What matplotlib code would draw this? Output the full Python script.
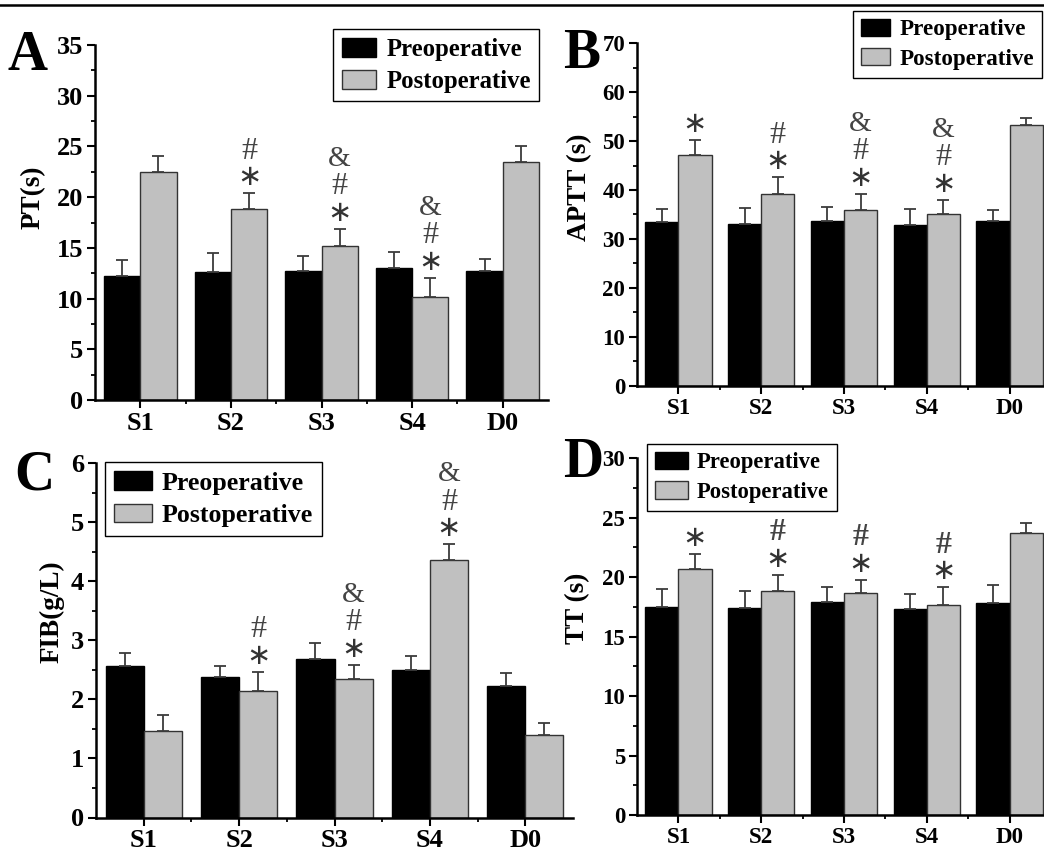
import numpy as np
import matplotlib
matplotlib.use('Agg')
import matplotlib.pyplot as plt
from matplotlib.lines import Line2D
from matplotlib.ticker import MultipleLocator, FixedLocator

plt.rcParams['font.family'] = ['Liberation Serif', 'DejaVu Serif']
plt.rcParams['font.weight'] = 'bold'

groups = ['S1', 'S2', 'S3', 'S4', 'D0']
series_names = ['Preoperative', 'Postoperative']

# PT (s)
pt_pre = [12.2, 12.65, 12.75, 13.0, 12.75]
pt_pre_sd = [1.6, 1.8, 1.45, 1.55, 1.2]
pt_post = [22.5, 18.8, 15.2, 10.2, 23.5]
pt_post_sd = [1.55, 1.6, 1.7, 1.85, 1.5]
pt_marks = ['', '*#', '*#&', '*#&', '']

# APTT (s)
aptt_pre = [33.4, 33.1, 33.6, 32.9, 33.6]
aptt_pre_sd = [2.8, 3.3, 2.95, 3.3, 2.4]
aptt_post = [47.1, 39.2, 35.9, 35.1, 53.3]
aptt_post_sd = [3.2, 3.4, 3.3, 2.9, 1.5]
aptt_marks = ['*', '*#', '*#&', '*#&', '']

# FIB (g/L)
fib_pre = [2.57, 2.38, 2.69, 2.50, 2.22]
fib_pre_sd = [0.22, 0.19, 0.26, 0.24, 0.22]
fib_post = [1.46, 2.14, 2.34, 4.36, 1.39]
fib_post_sd = [0.27, 0.33, 0.25, 0.27, 0.21]
fib_marks = ['', '*#', '*#&', '*#&', '']

# TT (s)
tt_pre = [17.5, 17.45, 17.9, 17.3, 17.8]
tt_pre_sd = [1.5, 1.4, 1.25, 1.3, 1.55]
tt_post = [20.65, 18.85, 18.65, 17.7, 23.75]
tt_post_sd = [1.3, 1.35, 1.15, 1.45, 0.85]
tt_marks = ['*', '*#', '*#', '*#', '']

W, H = 1044, 852
fig = plt.figure(figsize=(W / 100, H / 100), dpi=100)


def px_axes(left, right, bottom, top):
    # pixel box (origin top-left) -> figure fraction
    return fig.add_axes([left / W, 1 - bottom / H, (right - left) / W, (bottom - top) / H])


def panel(ax, pre, pre_sd, post, post_sd, marks, ymax, ystep, ylabel, label_xy,
          letter, letter_xy, leg_xy, leg_fs, hl, hh, tick_fs, hash_weight='normal'):
    x = np.arange(len(groups))
    w = 0.4
    ax.bar(x - w / 2, pre, w, color='black', edgecolor='black', linewidth=1,
           label=series_names[0], zorder=2)
    ax.bar(x + w / 2, post, w, color='#c0c0c0', edgecolor='#333333', linewidth=1,
           label=series_names[1], zorder=2)
    for xs, v, sd in [(x - w / 2, pre, pre_sd), (x + w / 2, post, post_sd)]:
        ax.errorbar(xs, v, yerr=[np.zeros(len(v)), sd], fmt='none', ecolor='#3c3c3c',
                    elinewidth=1.3, capsize=4.2, capthick=1.3, zorder=3)

    # significance symbols stacked above the postoperative error bars
    offsets = {'*': 16, '#': 42, '&': 70}
    for i, m in enumerate(marks):
        top = post[i] + post_sd[i]
        for s in m:
            if s == '*':
                ax.annotate('\u2217', (x[i] + w / 2, top), xytext=(0, offsets[s]),
                            textcoords='offset pixels', ha='center', va='center',
                            fontsize=21, color='#333333', family='DejaVu Sans',
                            fontweight='normal')
            elif s == '#':
                ax.annotate(s, (x[i] + w / 2, top), xytext=(0, offsets[s]),
                            textcoords='offset pixels', ha='center', va='center',
                            fontsize=23, color='#444444', fontweight=hash_weight)
            else:
                ax.annotate(s, (x[i] + w / 2, top), xytext=(0, offsets[s]),
                            textcoords='offset pixels', ha='center', va='center',
                            fontsize=21, color='#444444', fontweight='normal')

    ax.set_xlim(-0.5, 4.5)
    ax.set_ylim(0, ymax)
    ax.set_xticks(x)
    ax.set_xticklabels(groups)
    ax.xaxis.set_minor_locator(FixedLocator(x[:-1] + 0.5))
    ax.yaxis.set_major_locator(MultipleLocator(ystep))
    ax.yaxis.set_minor_locator(MultipleLocator(ystep / 2))
    ax.tick_params(which='major', direction='out', length=5.5, width=1.5,
                   labelsize=tick_fs, pad=3)
    ax.tick_params(which='minor', direction='out', length=3, width=1.3)
    for t in ax.get_xticklabels() + ax.get_yticklabels():
        t.set_fontweight('bold')
    for sp in ['top', 'right']:
        ax.spines[sp].set_visible(False)
    for sp in ['left', 'bottom']:
        ax.spines[sp].set_linewidth(1.8)

    ax.set_ylabel(ylabel, fontsize=19.5, fontweight='bold')
    ax.yaxis.set_label_coords(*label_xy)

    fig.text(letter_xy[0] / W, 1 - letter_xy[1] / H, letter, fontsize=40,
             fontweight='bold', ha='left', va='top')

    leg = ax.legend(loc='upper left', bbox_to_anchor=(leg_xy[0] / W, 1 - leg_xy[1] / H),
                    bbox_transform=fig.transFigure, borderaxespad=0, fancybox=False,
                    edgecolor='black', framealpha=1, prop={'weight': 'bold', 'size': leg_fs},
                    handlelength=hl, handleheight=hh, handletextpad=0.4,
                    borderpad=0.35, labelspacing=0.35)
    leg.get_frame().set_linewidth(1.0)


ax_a = px_axes(95, 548, 400, 45)
panel(ax_a, pt_pre, pt_pre_sd, pt_post, pt_post_sd, pt_marks, 35, 5, 'PT(s)',
      (-0.108, 0.57), 'A', (8, 30), (333, 29), 17.8, 1.4, 0.82, 19)

ax_b = px_axes(637, 1051, 385.7, 43.3)
panel(ax_b, aptt_pre, aptt_pre_sd, aptt_post, aptt_post_sd, aptt_marks, 70, 10,
      'APTT (s)', (-0.109, 0.58), 'B', (563, 28), (853, 11), 16.6, 1.25, 0.72, 16.5)

ax_c = px_axes(96, 573, 817.5, 463.3)
panel(ax_c, fib_pre, fib_pre_sd, fib_post, fib_post_sd, fib_marks, 6, 1, 'FIB(g/L)',
      (-0.065, 0.58), 'C', (14, 449), (105, 462), 18.6, 1.45, 0.75, 19)

ax_d = px_axes(637, 1051, 815, 458.3)
panel(ax_d, tt_pre, tt_pre_sd, tt_post, tt_post_sd, tt_marks, 30, 5, 'TT (s)',
      (-0.114, 0.58), 'D', (563, 437), (647, 444), 16.3, 1.45, 0.8, 16.5,
      hash_weight='bold')

# rule across the top edge
fig.add_artist(Line2D([0, 1], [1 - 5 / H, 1 - 5 / H], color='black', linewidth=1.8,
                      transform=fig.transFigure))

fig.savefig('out.png', dpi=100)
